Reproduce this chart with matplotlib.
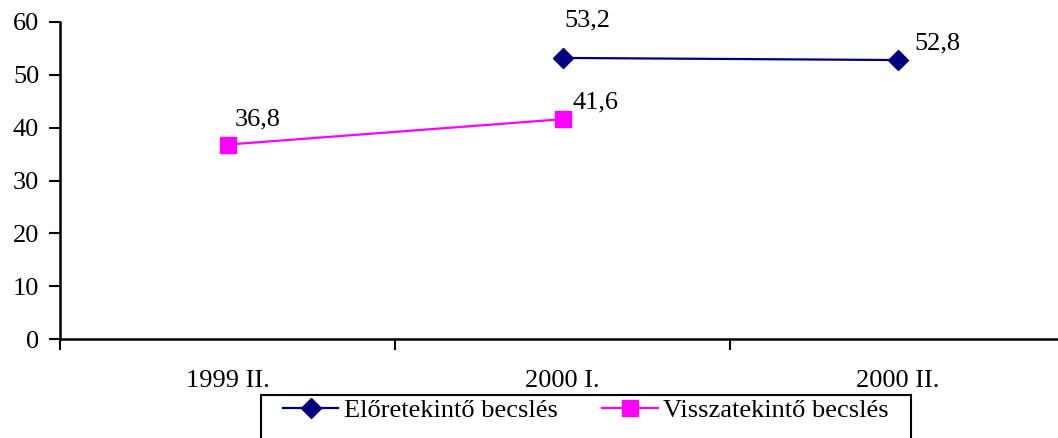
import numpy as np
import matplotlib
matplotlib.use("Agg")
import matplotlib.pyplot as plt
from matplotlib.patches import Rectangle

categories = ["1999 II.", "2000 I.", "2000 II."]
elore = [np.nan, 53.2, 52.8]
vissza = [36.8, 41.6, np.nan]
elore_name = "Előretekintő becslés"
vissza_name = "Visszatekintő becslés"

plt.rcParams['font.family'] = ['Liberation Serif', 'DejaVu Serif']
FS = 19

fig = plt.figure(figsize=(10.58, 4.38), dpi=100)
ax = fig.add_axes([60/1058, 99/438, 1005/1058, 317/438])

x = np.arange(len(categories))
ax.plot(x, elore, color='#000080', lw=1.6, marker='D', markersize=10.5, label=elore_name, clip_on=False)
ax.plot(x, vissza, color='#FF00FF', lw=1.6, marker='s', markersize=11, label=vissza_name, clip_on=False)

def fmt(v):
    return f"{v:.1f}".replace('.', ',')

offsets_e = [None, (1, 19), (12, 4)]
offsets_v = [(5, 10), (7, 4)]
for i, v in enumerate(elore):
    if not np.isnan(v):
        ax.annotate(fmt(v), (x[i], v), xytext=offsets_e[i], textcoords='offset points',
                    fontsize=FS, ha='left', va='bottom')
for i, v in enumerate(vissza):
    if not np.isnan(v):
        ax.annotate(fmt(v), (x[i], v), xytext=offsets_v[i], textcoords='offset points',
                    fontsize=FS, ha='left', va='bottom')

ax.set_xlim(-0.5, 2.5)
ax.set_ylim(0, 60)
ax.set_yticks(np.arange(0, 61, 10))
ax.set_xticks(x)
ax.set_xticklabels(categories, fontsize=FS)
ax.set_xticks(np.arange(-0.5, 2.6, 1), minor=True)
ax.tick_params(axis='x', which='major', length=0, pad=22)
ax.tick_params(axis='x', which='minor', length=8, width=1.5, direction='out')
ax.tick_params(axis='y', length=8, width=1.5, direction='out', labelsize=FS, pad=7)
for s in ['top', 'right']:
    ax.spines[s].set_visible(False)
for s in ['left', 'bottom']:
    ax.spines[s].set_linewidth(1.8)

leg = fig.legend(loc='upper left', bbox_to_anchor=(283/1058, 1 - 399/438), ncol=2,
                 fontsize=FS, frameon=False,
                 handlelength=2.1, handletextpad=0.2, columnspacing=1.7,
                 borderpad=0, borderaxespad=0)
fig.add_artist(Rectangle((261/1058, -20/438), (911-261)/1058, (20+438-395)/438,
                         transform=fig.transFigure, fill=False, edgecolor='black',
                         linewidth=1.5))

fig.savefig("out.png", dpi=100)
